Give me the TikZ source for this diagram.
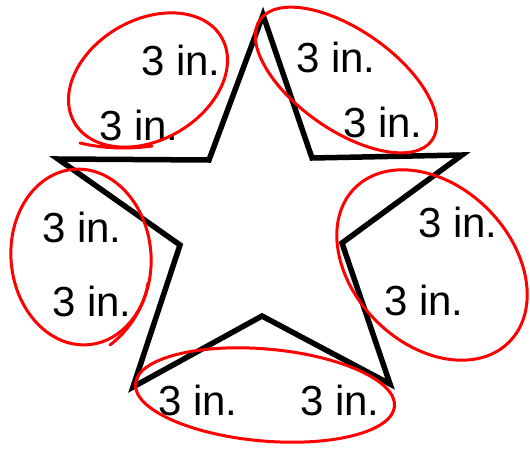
\documentclass[tikz,border=0pt]{standalone}
\usepackage{fontspec}
\setmainfont{Liberation Sans}
\begin{document}
\begin{tikzpicture}[x=1pt,y=-1pt,
  lbl/.style={font=\fontsize{42}{42}\selectfont, inner sep=0pt, anchor=center},
  starline/.style={draw=black, line width=5.5pt, line join=miter, miter limit=20},
  redmark/.style={draw=red, line width=3pt, line cap=round}]
\useasboundingbox (0,0) rectangle (530,455);
% star
\coordinate (T) at (263,15);
\coordinate (URi) at (312,158);
\coordinate (Ro) at (462,155);
\coordinate (Ri) at (342,243);
\coordinate (BRo) at (390,384);
\coordinate (Bi) at (262,316);
\coordinate (BLo) at (133,387);
\coordinate (Li) at (180,245);
\coordinate (Lo) at (58,159);
\coordinate (ULi) at (209,160);
\draw[starline] (T) -- (URi) -- (Ro) -- (Ri) -- (BRo) -- (Bi) -- (BLo) -- (Li) -- (Lo) -- (ULi) -- cycle;
% labels
\node[lbl] (l1) at (181,60) {3 in.};
\node[lbl] (l2) at (139,125) {3 in.};
\node[lbl] (l3) at (336,57) {3 in.};
\node[lbl] (l4) at (383,122) {3 in.};
\node[lbl] (l5) at (458,222) {3 in.};
\node[lbl] (l6) at (424,300) {3 in.};
\node[lbl] (l7) at (82,227) {3 in.};
\node[lbl] (l8) at (92,301) {3 in.};
\node[lbl] (l9) at (198,400) {3 in.};
\node[lbl] (l10) at (340,400) {3 in.};
% red hand-drawn ellipses
\draw[redmark, rotate around={30:(148,80)}] (148,80) ellipse [x radius=85, y radius=60];
\draw[redmark] (80,143) .. controls (105,149) and (130,149) .. (152,146);
\draw[redmark, rotate around={-35:(346,80)}] (346,80) ellipse [x radius=105, y radius=50];
\draw[redmark, rotate around={5:(81,257)}] (81,257) ellipse [x radius=70, y radius=88];
\draw[redmark] (110,345) .. controls (130,330) and (145,305) .. (148,283);
\draw[redmark, rotate around={-45:(432,265)}] (432,265) ellipse [x radius=109, y radius=79];
\draw[redmark, rotate around={-5:(265,395)}] (265,395) ellipse [x radius=130, y radius=46];
\end{tikzpicture}
\end{document}
